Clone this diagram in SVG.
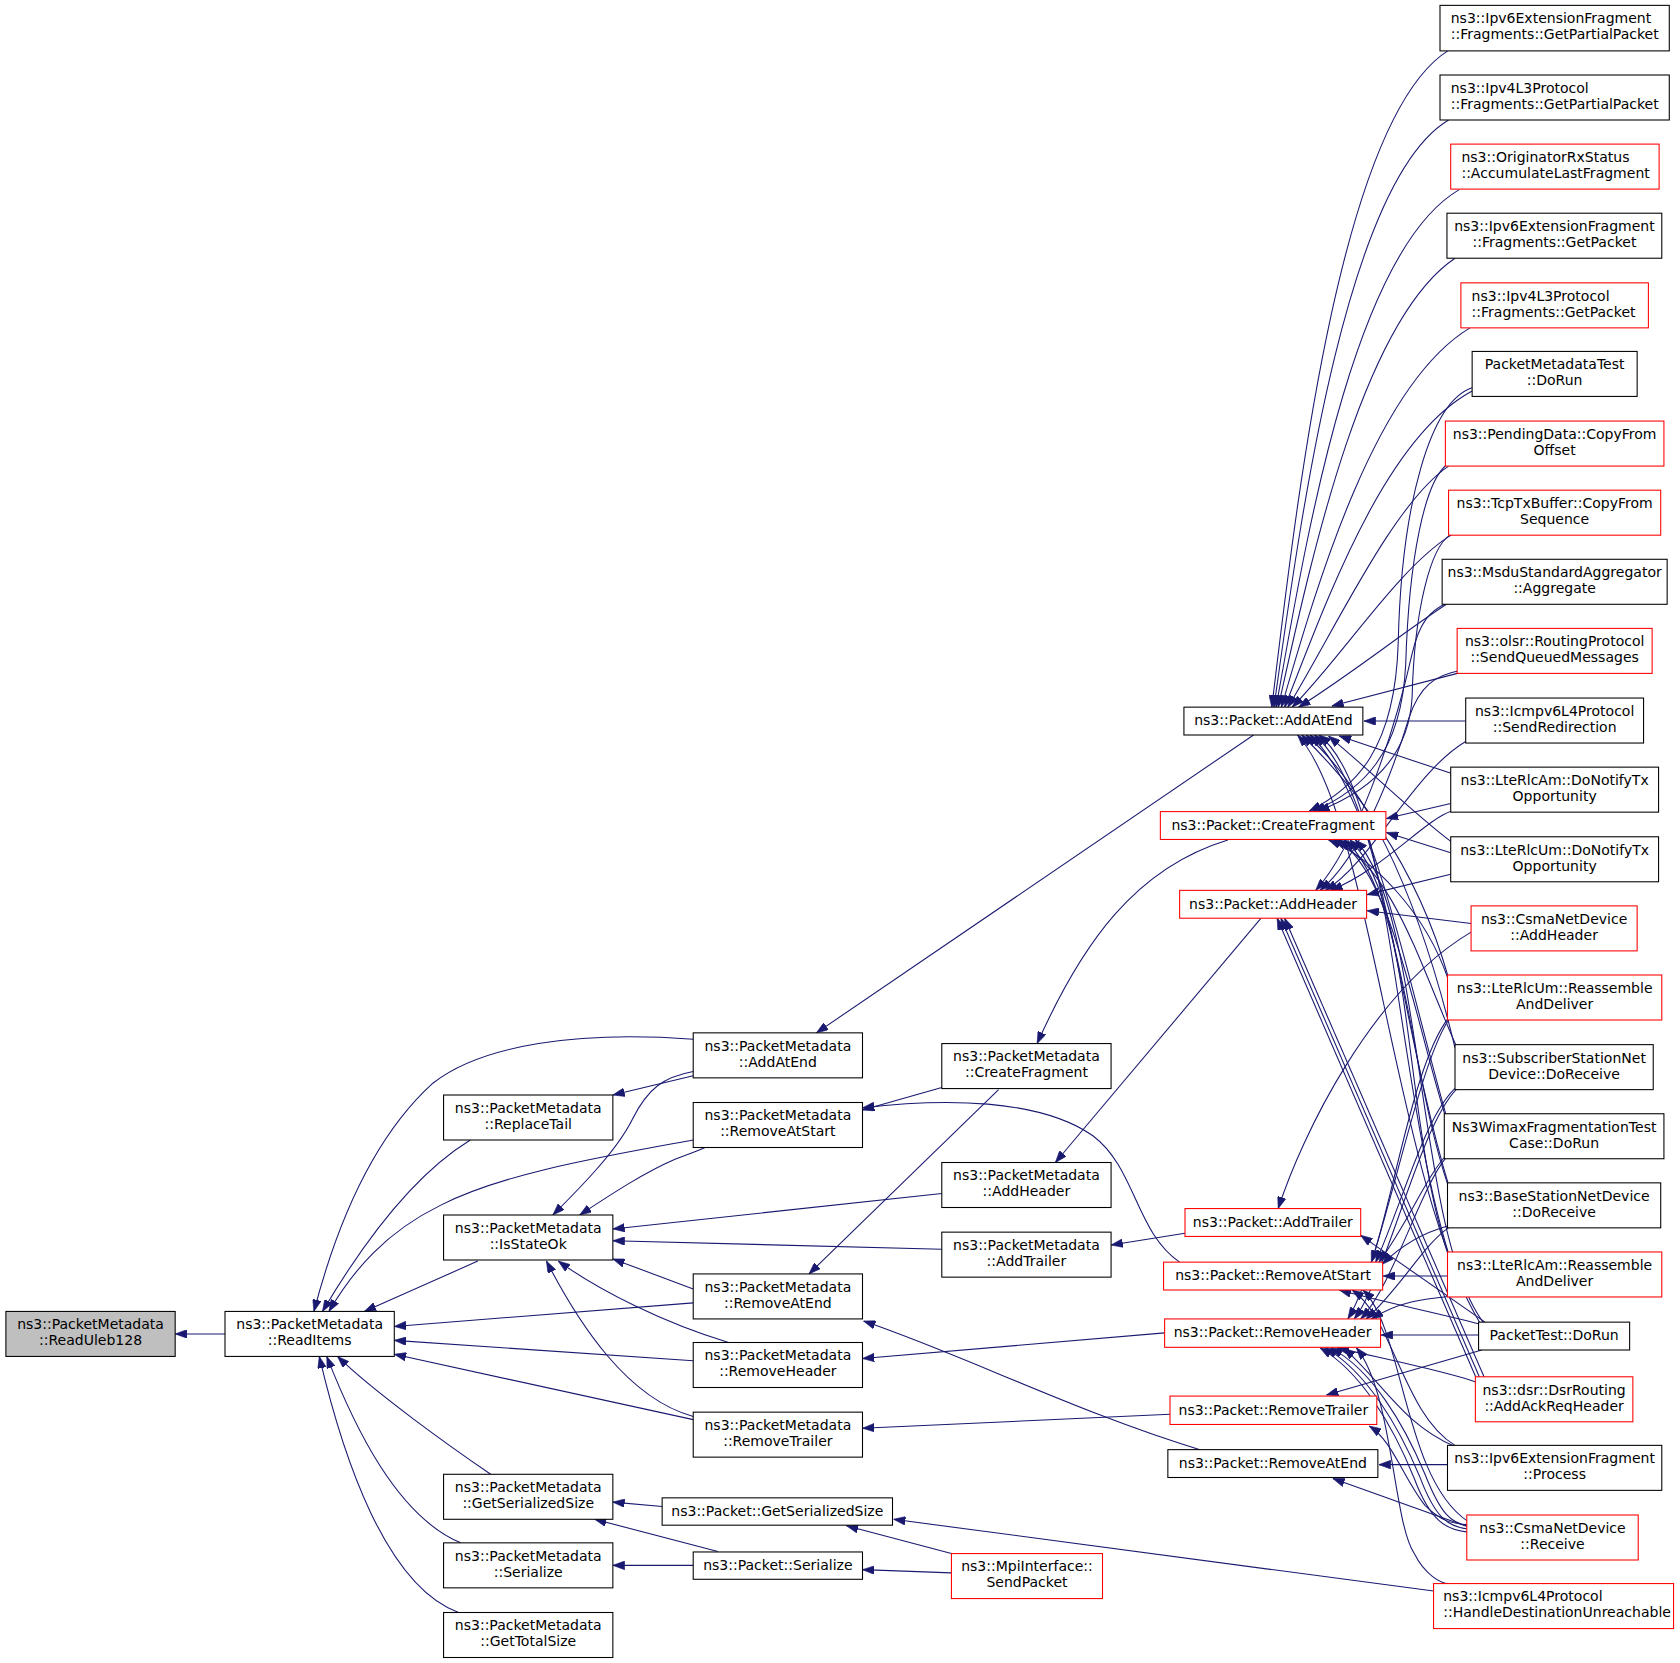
<svg xmlns="http://www.w3.org/2000/svg" width="1680" height="1663" viewBox="0 0 1680 1663">
<style>
.node rect{fill:#ffffff;stroke:#000000;stroke-width:1}
.node.red rect{stroke:#ff0000}
.node.cur rect{fill:#bfbfbf}
.node text{font-family:"DejaVu Sans","Liberation Sans",sans-serif;font-size:13.1px;fill:#000000}
.c{text-anchor:middle}
.l{text-anchor:start}
#edges path{fill:none;stroke:#191970;stroke-width:1;marker-start:url(#ah)}
</style>
<defs>
<marker id="ah" viewBox="0 0 10 7" refX="10" refY="3.5" markerWidth="11" markerHeight="8" markerUnits="userSpaceOnUse" orient="auto-start-reverse" preserveAspectRatio="none"><path d="M0,0 L10,3.5 L0,7 z" fill="#191970" stroke="#191970" stroke-width="0.5"/></marker>
</defs>
<rect width="1680" height="1663" fill="#ffffff"/>
<g transform="scale(1.0714286)">
<g id="edges">
<path d="M163.5,1245 L210,1245"/>
<path d="M293,1224 C315,1140 350,1060 404,1011 C450,975 540,962 647,970"/>
<path d="M301,1224 C330,1175 380,1100 439,1064"/>
<path d="M307,1224 C330,1185 360,1150 411,1125 C470,1095 560,1080 647,1064"/>
<path d="M340,1224 L446,1177"/>
<path d="M368,1238 L647,1216"/>
<path d="M368,1251 L647,1270"/>
<path d="M368,1264 L647,1325"/>
<path d="M315,1266 C350,1300 420,1350 458,1376"/>
<path d="M305,1266 C330,1330 370,1415 430,1440"/>
<path d="M298,1266 C320,1360 360,1480 428,1505"/>
<path d="M516,1134 C540,1110 575,1075 590,1045 C605,1015 620,1005 647,1000"/>
<path d="M541,1134 C570,1115 600,1095 630,1082 C645,1076 652,1074 658,1071"/>
<path d="M572,1147 L879,1114"/>
<path d="M572,1158 L879,1166"/>
<path d="M572,1175 L647,1203"/>
<path d="M521,1177 C560,1205 620,1235 680,1253"/>
<path d="M510,1177 C540,1235 585,1305 647,1322"/>
<path d="M572,1022 L647,1004"/>
<path d="M762,964 L1170,686"/>
<path d="M805,1036 L879,1015"/>
<path d="M805,1034 C880,1025 970,1025 1020,1060 C1060,1090 1060,1150 1101,1178"/>
<path d="M968,974 C1010,880 1060,810 1146,784"/>
<path d="M985,1085 L1177,857"/>
<path d="M1037,1162 L1106,1151"/>
<path d="M755,1189 L932,1017"/>
<path d="M806,1233 C900,1265 1010,1320 1120,1353"/>
<path d="M805,1268 L1087,1244"/>
<path d="M805,1333 L1092,1320"/>
<path d="M572,1402 L618,1406"/>
<path d="M555,1418 C600,1430 640,1440 670,1448"/>
<path d="M572,1461 L647,1461"/>
<path d="M805,1465 L888,1468"/>
<path d="M790,1424 L888,1450"/>
<path d="M834,1418 L1338,1485"/>
<path d="M1187,660 C1210,470 1250,110 1352,47"/>
<path d="M1189,660 C1213,490 1255,170 1352,112"/>
<path d="M1191,660 C1218,510 1262,235 1362,177"/>
<path d="M1193,660 C1222,530 1270,300 1358,241"/>
<path d="M1196,660 C1228,550 1282,360 1372,306"/>
<path d="M1199,660 C1235,570 1290,410 1374,365"/>
<path d="M1202,660 C1245,590 1300,470 1352,435"/>
<path d="M1206,660 C1255,610 1305,530 1355,499"/>
<path d="M1212,660 C1260,630 1310,590 1350,564"/>
<path d="M1243,659 L1362,628"/>
<path d="M1273,673 L1368,673"/>
<path d="M1250,687 L1355,722"/>
<path d="M1240,687 C1280,720 1320,760 1355,786"/>
<path d="M1215,686 C1260,730 1320,800 1352,913"/>
<path d="M1219,686 C1270,730 1320,820 1358,978"/>
<path d="M1223,686 C1280,740 1310,900 1350,1042"/>
<path d="M1227,686 C1290,740 1305,950 1352,1106"/>
<path d="M1231,686 C1300,740 1300,1000 1352,1170"/>
<path d="M1211,686 C1280,760 1300,1100 1382,1236"/>
<path d="M1222,757 C1265,735 1302,700 1305,600 C1308,470 1335,375 1374,362"/>
<path d="M1226,757 C1270,738 1308,705 1312,620 C1315,520 1330,450 1350,434"/>
<path d="M1230,757 C1275,740 1315,710 1318,650 C1320,570 1335,510 1354,499"/>
<path d="M1294,764 L1354,750"/>
<path d="M1294,777 L1354,796"/>
<path d="M1240,784 C1280,800 1330,850 1352,915"/>
<path d="M1245,784 C1300,810 1325,900 1360,978"/>
<path d="M1250,784 C1300,820 1320,950 1350,1045"/>
<path d="M1255,784 C1310,830 1315,1000 1352,1108"/>
<path d="M1260,784 C1320,840 1310,1050 1352,1172"/>
<path d="M1265,784 C1330,850 1320,1150 1385,1235"/>
<path d="M1232,831 C1270,800 1300,720 1315,670 C1325,640 1340,630 1362,626"/>
<path d="M1237,831 C1280,805 1320,720 1368,692"/>
<path d="M1242,831 C1290,812 1330,765 1355,757"/>
<path d="M1228,831 C1265,790 1300,690 1318,610 C1325,580 1335,570 1350,563"/>
<path d="M1276,835 L1354,816"/>
<path d="M1276,850 L1373,862"/>
<path d="M1192,857 L1379,1289"/>
<path d="M1195.5,857 L1382,1288"/>
<path d="M1199,857 L1386,1287"/>
<path d="M1193,1128 C1215,1060 1280,925 1373,870"/>
<path d="M1270,1153 L1386,1234"/>
<path d="M1291,1191 L1351,1191"/>
<path d="M1280,1178 C1300,1120 1320,990 1352,950"/>
<path d="M1284,1178 C1310,1120 1330,1040 1360,1014"/>
<path d="M1287,1178 C1315,1140 1330,1100 1350,1078"/>
<path d="M1290,1180 C1310,1160 1330,1150 1352,1144"/>
<path d="M1250,1204 C1290,1215 1340,1225 1382,1236"/>
<path d="M1262,1204 C1300,1230 1310,1320 1358,1349"/>
<path d="M1272,1204 C1310,1240 1310,1380 1370,1420"/>
<path d="M1289,1246 L1380,1246"/>
<path d="M1258,1231 C1290,1180 1320,1000 1352,952"/>
<path d="M1264,1231 C1295,1190 1325,1050 1360,1016"/>
<path d="M1270,1231 C1300,1200 1325,1110 1350,1080"/>
<path d="M1275,1231 C1305,1205 1330,1160 1352,1146"/>
<path d="M1280,1231 C1305,1215 1330,1212 1352,1210"/>
<path d="M1232,1258 C1270,1280 1300,1330 1320,1380 C1335,1420 1350,1428 1370,1430"/>
<path d="M1237,1258 C1275,1280 1305,1330 1325,1378 C1340,1418 1352,1425 1370,1427"/>
<path d="M1242,1258 C1280,1278 1310,1328 1330,1376 C1345,1414 1355,1422 1370,1424"/>
<path d="M1248,1258 C1300,1270 1350,1280 1378,1290"/>
<path d="M1254,1258 C1290,1290 1310,1330 1358,1350"/>
<path d="M1266,1258 C1300,1300 1300,1420 1320,1450 C1330,1470 1345,1478 1352,1478"/>
<path d="M1238,1302 L1383,1260"/>
<path d="M1278,1331 C1300,1345 1310,1380 1330,1405 C1345,1420 1355,1422 1370,1423"/>
<path d="M1287,1367 L1351,1367"/>
<path d="M1244,1380 L1370,1425"/>
</g>
<g id="n0" class="node cur"><rect x="5.5" y="1224" width="158" height="42"/><text class="c" x="84.5" y="1240.7">ns3::PacketMetadata</text><text class="c" x="84.5" y="1255.6">::ReadUleb128</text></g>
<g id="n1" class="node"><rect x="210" y="1224" width="158" height="42"/><text class="c" x="289" y="1240.7">ns3::PacketMetadata</text><text class="c" x="289" y="1255.6">::ReadItems</text></g>
<g id="n2" class="node"><rect x="414" y="1022" width="158" height="42"/><text class="c" x="493" y="1038.7">ns3::PacketMetadata</text><text class="c" x="493" y="1053.6">::ReplaceTail</text></g>
<g id="n3" class="node"><rect x="414" y="1134" width="158" height="42"/><text class="c" x="493" y="1150.7">ns3::PacketMetadata</text><text class="c" x="493" y="1165.6">::IsStateOk</text></g>
<g id="n4" class="node"><rect x="414" y="1376" width="158" height="42"/><text class="c" x="493" y="1392.7">ns3::PacketMetadata</text><text class="c" x="493" y="1407.6">::GetSerializedSize</text></g>
<g id="n5" class="node"><rect x="414" y="1440" width="158" height="42"/><text class="c" x="493" y="1456.7">ns3::PacketMetadata</text><text class="c" x="493" y="1471.6">::Serialize</text></g>
<g id="n6" class="node"><rect x="414" y="1505" width="158" height="42"/><text class="c" x="493" y="1521.7">ns3::PacketMetadata</text><text class="c" x="493" y="1536.6">::GetTotalSize</text></g>
<g id="n7" class="node"><rect x="647" y="964" width="158" height="42"/><text class="c" x="726" y="980.7">ns3::PacketMetadata</text><text class="c" x="726" y="995.6">::AddAtEnd</text></g>
<g id="n8" class="node"><rect x="647" y="1029" width="158" height="42"/><text class="c" x="726" y="1045.7">ns3::PacketMetadata</text><text class="c" x="726" y="1060.6">::RemoveAtStart</text></g>
<g id="n9" class="node"><rect x="647" y="1189" width="158" height="42"/><text class="c" x="726" y="1205.7">ns3::PacketMetadata</text><text class="c" x="726" y="1220.6">::RemoveAtEnd</text></g>
<g id="n10" class="node"><rect x="647" y="1253" width="158" height="42"/><text class="c" x="726" y="1269.7">ns3::PacketMetadata</text><text class="c" x="726" y="1284.6">::RemoveHeader</text></g>
<g id="n11" class="node"><rect x="647" y="1318" width="158" height="42"/><text class="c" x="726" y="1334.7">ns3::PacketMetadata</text><text class="c" x="726" y="1349.6">::RemoveTrailer</text></g>
<g id="n12" class="node"><rect x="618" y="1398" width="215" height="25.5"/><text class="c" x="725.5" y="1414.7">ns3::Packet::GetSerializedSize</text></g>
<g id="n13" class="node"><rect x="647" y="1448.5" width="158" height="25.5"/><text class="c" x="726" y="1465.2">ns3::Packet::Serialize</text></g>
<g id="n14" class="node"><rect x="879" y="974" width="158" height="42"/><text class="c" x="958" y="990.7">ns3::PacketMetadata</text><text class="c" x="958" y="1005.6">::CreateFragment</text></g>
<g id="n15" class="node"><rect x="879" y="1085" width="158" height="42"/><text class="c" x="958" y="1101.7">ns3::PacketMetadata</text><text class="c" x="958" y="1116.6">::AddHeader</text></g>
<g id="n16" class="node"><rect x="879" y="1150" width="158" height="42"/><text class="c" x="958" y="1166.7">ns3::PacketMetadata</text><text class="c" x="958" y="1181.6">::AddTrailer</text></g>
<g id="n17" class="node red"><rect x="888" y="1450" width="141" height="42"/><text class="c" x="958.5" y="1466.7">ns3::MpiInterface::</text><text class="c" x="958.5" y="1481.6">SendPacket</text></g>
<g id="n18" class="node"><rect x="1105" y="660" width="167" height="26"/><text class="c" x="1188.5" y="677">ns3::Packet::AddAtEnd</text></g>
<g id="n19" class="node red"><rect x="1083" y="757.5" width="210.5" height="26"/><text class="c" x="1188.2" y="774.5">ns3::Packet::CreateFragment</text></g>
<g id="n20" class="node red"><rect x="1101" y="831" width="174.5" height="26"/><text class="c" x="1188.2" y="848">ns3::Packet::AddHeader</text></g>
<g id="n21" class="node red"><rect x="1106" y="1128" width="164" height="26"/><text class="c" x="1188" y="1145">ns3::Packet::AddTrailer</text></g>
<g id="n22" class="node red"><rect x="1086" y="1178" width="204.5" height="26"/><text class="c" x="1188.2" y="1195">ns3::Packet::RemoveAtStart</text></g>
<g id="n23" class="node red"><rect x="1087" y="1231" width="201.5" height="26.5"/><text class="c" x="1187.7" y="1248.3">ns3::Packet::RemoveHeader</text></g>
<g id="n24" class="node red"><rect x="1092" y="1303" width="193" height="26.5"/><text class="c" x="1188.5" y="1320.3">ns3::Packet::RemoveTrailer</text></g>
<g id="n25" class="node"><rect x="1090" y="1353" width="196" height="26"/><text class="c" x="1188" y="1370">ns3::Packet::RemoveAtEnd</text></g>
<g id="n26" class="node"><rect x="1344" y="5" width="214" height="42.5"/><text class="l" x="1354" y="21.9">ns3::Ipv6ExtensionFragment</text><text class="l" x="1354" y="36.8">::Fragments::GetPartialPacket</text></g>
<g id="n27" class="node"><rect x="1344" y="70" width="214" height="42"/><text class="l" x="1354" y="86.7">ns3::Ipv4L3Protocol</text><text class="l" x="1354" y="101.6">::Fragments::GetPartialPacket</text></g>
<g id="n28" class="node red"><rect x="1354" y="134.5" width="194.5" height="42"/><text class="l" x="1364" y="151.2">ns3::OriginatorRxStatus</text><text class="l" x="1364" y="166.1">::AccumulateLastFragment</text></g>
<g id="n29" class="node"><rect x="1350.5" y="199" width="200.5" height="42"/><text class="c" x="1450.8" y="215.7">ns3::Ipv6ExtensionFragment</text><text class="c" x="1450.8" y="230.6">::Fragments::GetPacket</text></g>
<g id="n30" class="node red"><rect x="1363.5" y="264" width="175" height="42"/><text class="l" x="1373.5" y="280.7">ns3::Ipv4L3Protocol</text><text class="l" x="1373.5" y="295.6">::Fragments::GetPacket</text></g>
<g id="n31" class="node"><rect x="1374" y="328" width="154" height="42"/><text class="c" x="1451" y="344.7">PacketMetadataTest</text><text class="c" x="1451" y="359.6">::DoRun</text></g>
<g id="n32" class="node red"><rect x="1349" y="393" width="204" height="42"/><text class="c" x="1451" y="409.7">ns3::PendingData::CopyFrom</text><text class="c" x="1451" y="424.6">Offset</text></g>
<g id="n33" class="node red"><rect x="1352" y="457.5" width="198" height="42"/><text class="c" x="1451" y="474.2">ns3::TcpTxBuffer::CopyFrom</text><text class="c" x="1451" y="489.1">Sequence</text></g>
<g id="n34" class="node"><rect x="1346" y="522" width="210" height="42"/><text class="c" x="1451" y="538.7">ns3::MsduStandardAggregator</text><text class="c" x="1451" y="553.6">::Aggregate</text></g>
<g id="n35" class="node red"><rect x="1360" y="586.5" width="182" height="42"/><text class="c" x="1451" y="603.2">ns3::olsr::RoutingProtocol</text><text class="c" x="1451" y="618.1">::SendQueuedMessages</text></g>
<g id="n36" class="node"><rect x="1368" y="651.5" width="166" height="42"/><text class="c" x="1451" y="668.2">ns3::Icmpv6L4Protocol</text><text class="c" x="1451" y="683.1">::SendRedirection</text></g>
<g id="n37" class="node"><rect x="1354" y="716" width="194" height="42"/><text class="c" x="1451" y="732.7">ns3::LteRlcAm::DoNotifyTx</text><text class="c" x="1451" y="747.6">Opportunity</text></g>
<g id="n38" class="node"><rect x="1354" y="781" width="194" height="42"/><text class="c" x="1451" y="797.7">ns3::LteRlcUm::DoNotifyTx</text><text class="c" x="1451" y="812.6">Opportunity</text></g>
<g id="n39" class="node red"><rect x="1373" y="845.5" width="155" height="42"/><text class="c" x="1450.5" y="862.2">ns3::CsmaNetDevice</text><text class="c" x="1450.5" y="877.1">::AddHeader</text></g>
<g id="n40" class="node red"><rect x="1351" y="910" width="200" height="42"/><text class="c" x="1451" y="926.7">ns3::LteRlcUm::Reassemble</text><text class="c" x="1451" y="941.6">AndDeliver</text></g>
<g id="n41" class="node"><rect x="1358" y="975" width="185" height="42"/><text class="c" x="1450.5" y="991.7">ns3::SubscriberStationNet</text><text class="c" x="1450.5" y="1006.6">Device::DoReceive</text></g>
<g id="n42" class="node"><rect x="1348" y="1039.5" width="205" height="42"/><text class="c" x="1450.5" y="1056.2">Ns3WimaxFragmentationTest</text><text class="c" x="1450.5" y="1071.1">Case::DoRun</text></g>
<g id="n43" class="node"><rect x="1351" y="1104" width="199" height="42"/><text class="c" x="1450.5" y="1120.7">ns3::BaseStationNetDevice</text><text class="c" x="1450.5" y="1135.6">::DoReceive</text></g>
<g id="n44" class="node red"><rect x="1351" y="1168.5" width="200" height="42"/><text class="c" x="1451" y="1185.2">ns3::LteRlcAm::Reassemble</text><text class="c" x="1451" y="1200.1">AndDeliver</text></g>
<g id="n45" class="node"><rect x="1380" y="1234" width="141" height="26"/><text class="c" x="1450.5" y="1251">PacketTest::DoRun</text></g>
<g id="n46" class="node red"><rect x="1377" y="1285" width="147" height="42"/><text class="c" x="1450.5" y="1301.7">ns3::dsr::DsrRouting</text><text class="c" x="1450.5" y="1316.6">::AddAckReqHeader</text></g>
<g id="n47" class="node"><rect x="1351" y="1349" width="200" height="42"/><text class="c" x="1451" y="1365.7">ns3::Ipv6ExtensionFragment</text><text class="c" x="1451" y="1380.6">::Process</text></g>
<g id="n48" class="node red"><rect x="1369" y="1414" width="160" height="42"/><text class="c" x="1449" y="1430.7">ns3::CsmaNetDevice</text><text class="c" x="1449" y="1445.6">::Receive</text></g>
<g id="n49" class="node red"><rect x="1338" y="1478" width="224" height="42"/><text class="l" x="1347" y="1494.7">ns3::Icmpv6L4Protocol</text><text class="l" x="1347" y="1509.6">::HandleDestinationUnreachable</text></g>
</g>
</svg>
